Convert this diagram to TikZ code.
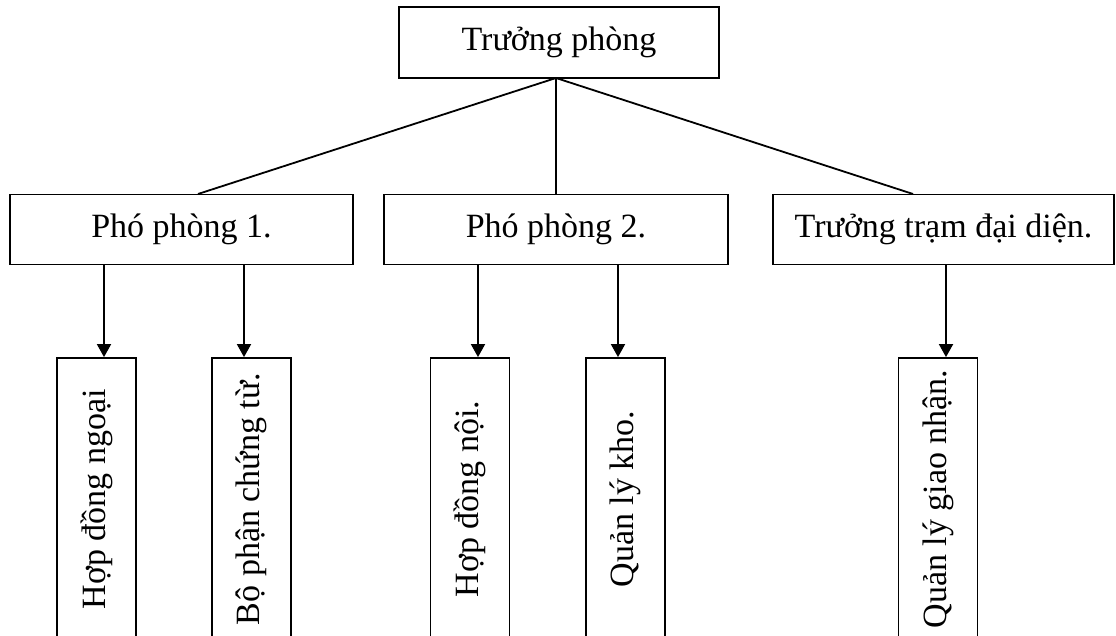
\documentclass[tikz,border=0pt]{standalone}
\usepackage{fontspec}
\setmainfont{Liberation Serif}
\usetikzlibrary{arrows.meta}
\begin{document}
\begin{tikzpicture}[x=1pt,y=-1pt,
  box/.style={draw, line width=1.8pt, inner sep=0pt, font=\fontsize{34}{40}\selectfont},
  vbox/.style={draw, line width=1.8pt, inner sep=0pt, minimum width=79pt, minimum height=282pt},
  vtext/.style={rotate=90, inner sep=0pt, font=\fontsize{34}{40}\selectfont},
  conn/.style={line width=1.8pt},
  arr/.style={line width=1.8pt, -{Triangle[length=13pt,width=14pt]}}]
\clip (0,0) rectangle (1116,636);
\fill[white] (0,0) rectangle (1116,636);
% top
\node[box, minimum width=320pt, minimum height=71pt] (T) at (559,42.5) {Trưởng phòng};
% middle row
\node[box, minimum width=343pt, minimum height=70pt] (B1) at (181.5,229.5) {Phó phòng 1.};
\node[box, minimum width=344pt, minimum height=70pt] (B2) at (556,229.5) {Phó phòng 2.};
\node[box, minimum width=341pt, minimum height=70pt] (B3) at (943.5,229.5) {Trưởng trạm đại diện.};
% bottom row
\node[vbox] (C1) at (96.5,499) {};
\node[vbox] (C2) at (251.5,499) {};
\node[vbox] (C3) at (470,499) {};
\node[vbox] (C4) at (625.5,499) {};
\node[vbox] (C5) at (938,499) {};
\node[vtext] (t1) at (C1) {Hợp đồng ngoại};
\node[vtext] (t2) at (C2) {Bộ phận chứng từ.};
\node[vtext] (t3) at (C3) {Hợp đồng nội.};
\node[vtext] (t4) at (C4) {Quản lý kho.};
\node[vtext] (t5) at (C5) {Quản lý giao nhận.};
% connectors from top
\coordinate (ts) at (556,78);
\coordinate (p1) at (198,194);
\coordinate (p2) at (556,194);
\coordinate (p3) at (913,194);
\draw[conn] (ts) -- (p1);
\draw[conn] (ts) -- (p2);
\draw[conn] (ts) -- (p3);
% arrows down
\coordinate (a1) at (104,265);
\coordinate (a2) at (244,265);
\coordinate (a3) at (478,265);
\coordinate (a4) at (618,265);
\coordinate (a5) at (946,265);
\draw[arr] (a1) -- (a1 |- C1.north);
\draw[arr] (a2) -- (a2 |- C2.north);
\draw[arr] (a3) -- (a3 |- C3.north);
\draw[arr] (a4) -- (a4 |- C4.north);
\draw[arr] (a5) -- (a5 |- C5.north);
\end{tikzpicture}
\end{document}
